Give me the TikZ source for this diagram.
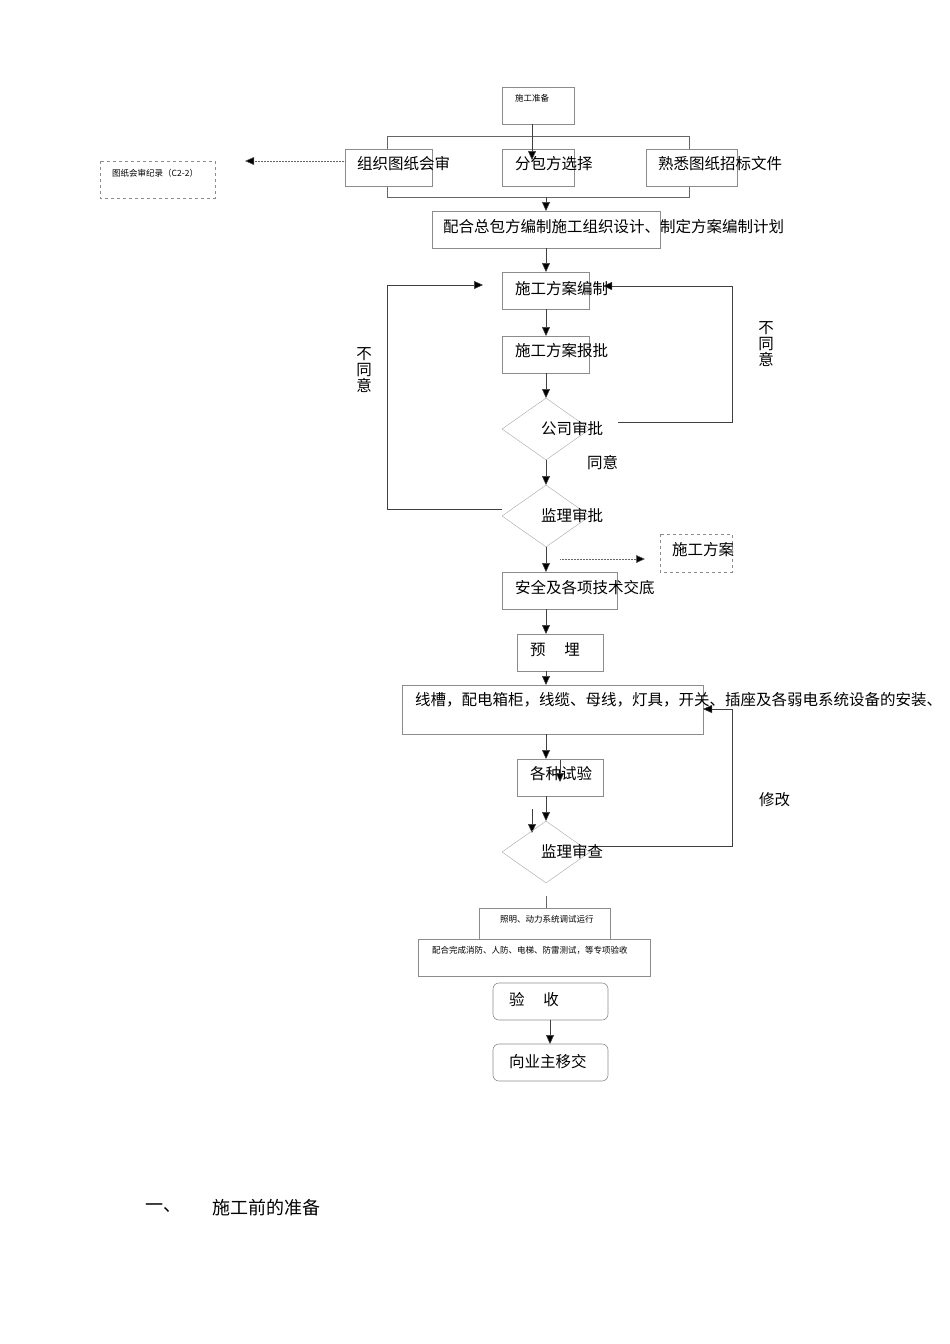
\documentclass[tikz,border=0pt]{standalone}
\usepackage{fontspec}
\setmainfont{Noto Sans CJK SC}
\usetikzlibrary{arrows.meta,shapes.geometric}
\begin{document}
\begin{tikzpicture}[x=1pt,y=-1pt,
 bx/.style={draw=black!45,line width=0.6pt},
 dbx/.style={draw=black!45,dashed,line width=0.6pt},
 ln/.style={draw=black!60,line width=0.5pt},
 ar/.style={draw=black!75,line width=0.5pt,-{Triangle[length=9pt,width=8pt,fill=black]}},
 dar/.style={draw=black!60,densely dotted,line width=0.5pt,-{Triangle[length=9pt,width=8pt,fill=black]}},
 t/.style={anchor=west,inner sep=0,font=\fontsize{15.5}{18}\selectfont},
 ts/.style={anchor=west,inner sep=0,font=\fontsize{8.5}{10}\selectfont},
 dm/.style={draw=black!35,diamond,aspect=1.4,minimum width=88pt,minimum height=62pt,inner sep=0}]
\useasboundingbox (0,0) rectangle (950,1344);
% top
\draw[bx] (502,87) rectangle (574,124);
\node[ts] (tz) at (515,98) {施工准备};
\draw[ln] (387,136) rectangle (689,197);
\draw[bx,fill=white] (345,149) rectangle (432,186);
\draw[bx,fill=white] (502,149) rectangle (574,186);
\draw[bx,fill=white] (646,149) rectangle (737,186);
\coordinate (a1) at (532,124); \coordinate (a2) at (532,160);
\draw[ar] (a1) -- (a2);
\node[t] (n1) at (357,164) {组织图纸会审};
\node[t] (n2) at (515,164) {分包方选择};
\node[t] (n3) at (658,164) {熟悉图纸招标文件};
\coordinate (d1) at (345,161); \coordinate (d2) at (245,161);
\draw[dar] (d1) -- (d2);
\draw[dbx] (100,161) rectangle (215,198);
\node[ts] (rec) at (112,173) {图纸会审纪录（C2-2）};
\coordinate (b1) at (546,197); \coordinate (b2) at (546,211);
\draw[ar] (b1) -- (b2);
\draw[bx] (432,211) rectangle (660,248);
\node[t] (n4) at (443,227) {配合总包方编制施工组织设计、制定方案编制计划};
\coordinate (c1) at (546,248); \coordinate (c2) at (546,272);
\draw[ar] (c1) -- (c2);
\draw[bx] (502,272) rectangle (589,309);
\node[t] (n5) at (515,289) {施工方案编制};
\coordinate (e1) at (546,309); \coordinate (e2) at (546,336);
\draw[ar] (e1) -- (e2);
\draw[bx] (502,336) rectangle (589,373);
\node[t] (n6) at (515,351) {施工方案报批};
\coordinate (f1) at (546,373); \coordinate (f2) at (546,398);
\draw[ar] (f1) -- (f2);
\node[dm] (gs) at (546,429) {};
\node[t] (n7) at (541,429) {公司审批};
\coordinate (r1) at (618,422); \coordinate (r2) at (603,286);
\draw[ar] (r1) -- (732,422) -- (732,286) -- (r2);
\node[t,align=center,anchor=center] (bty1) at (766,344) {不\\[-2pt]同\\[-2pt]意};
\node[t] (ty) at (587,463) {同意};
\coordinate (g1) at (546,460); \coordinate (g2) at (546,485);
\draw[ar] (g1) -- (g2);
\node[dm] (jl) at (546,516) {};
\node[t] (n8) at (541,516) {监理审批};
\coordinate (l1) at (502,509); \coordinate (l2) at (483,285);
\draw[ar] (l1) -- (387,509) -- (387,285) -- (l2);
\node[t,align=center,anchor=center] (bty2) at (364,370) {不\\[-2pt]同\\[-2pt]意};
\coordinate (h1) at (560,559); \coordinate (h2) at (645,559);
\draw[dar] (h1) -- (h2);
\draw[dbx] (660,534) rectangle (732,572);
\node[t] (fa) at (672,550) {施工方案};
\coordinate (i1) at (546,547); \coordinate (i2) at (546,572);
\draw[ar] (i1) -- (i2);
\draw[bx] (502,572) rectangle (617,609);
\node[t] (n9) at (515,588) {安全及各项技术交底};
\coordinate (j1) at (546,609); \coordinate (j2) at (546,634);
\draw[ar] (j1) -- (j2);
\draw[bx] (517,634) rectangle (603,671);
\node[t] (n10) at (530,650) {预\hspace{1.2em}埋};
\coordinate (k1) at (546,671); \coordinate (k2) at (546,685);
\draw[ar] (k1) -- (k2);
\draw[bx] (402,685) rectangle (703,734);
\node[t] (n11) at (415,700) {线槽，配电箱柜，线缆、母线，灯具，开关、插座及各弱电系统设备的安装、};
\coordinate (m1) at (546,734); \coordinate (m2) at (546,759);
\draw[ar] (m1) -- (m2);
\draw[bx] (517,759) rectangle (603,796);
\node[t] (n12) at (530,774) {各种试验};
\coordinate (m3) at (560,760); \coordinate (m4) at (560,782);
\draw[ar] (m3) -- (m4);
\coordinate (o1) at (546,796); \coordinate (o2) at (546,821);
\draw[ar] (o1) -- (o2);
\coordinate (o3) at (532,809); \coordinate (o4) at (532,833);
\draw[ar] (o3) -- (o4);
\node[dm] (jc) at (546,852) {};
\node[t] (n13) at (541,852) {监理审查};
\coordinate (p1) at (598,846); \coordinate (p2) at (703,709);
\draw[ar] (p1) -- (732,846) -- (732,709) -- (p2);
\node[t] (xg) at (759,800) {修改};
\coordinate (q1) at (546,896); \coordinate (q2) at (546,908);
\draw[ln] (q1) -- (q2);
\draw[bx] (479,939) -- (479,908) -- (610,908) -- (610,939);
\node[ts] (n14) at (500,919) {照明、动力系统调试运行};
\draw[bx] (418,939) rectangle (650,976);
\node[ts] (n15) at (432,950) {配合完成消防、人防、电梯、防雷测试，等专项验收};
\draw[bx,rounded corners=6pt] (493,983) rectangle (608,1020);
\node[t] (n16) at (509,1000) {验\hspace{1.2em}收};
\coordinate (s1) at (550,1020); \coordinate (s2) at (550,1044);
\draw[ar] (s1) -- (s2);
\draw[bx,rounded corners=6pt] (493,1044) rectangle (608,1081);
\node[t] (n17) at (509,1062) {向业主移交};
\node[t,font=\fontsize{18}{20}\selectfont] (h) at (145,1208) {一、};
\node[t,font=\fontsize{18}{20}\selectfont] (h2) at (212,1208) {施工前的准备};
\end{tikzpicture}
\end{document}
